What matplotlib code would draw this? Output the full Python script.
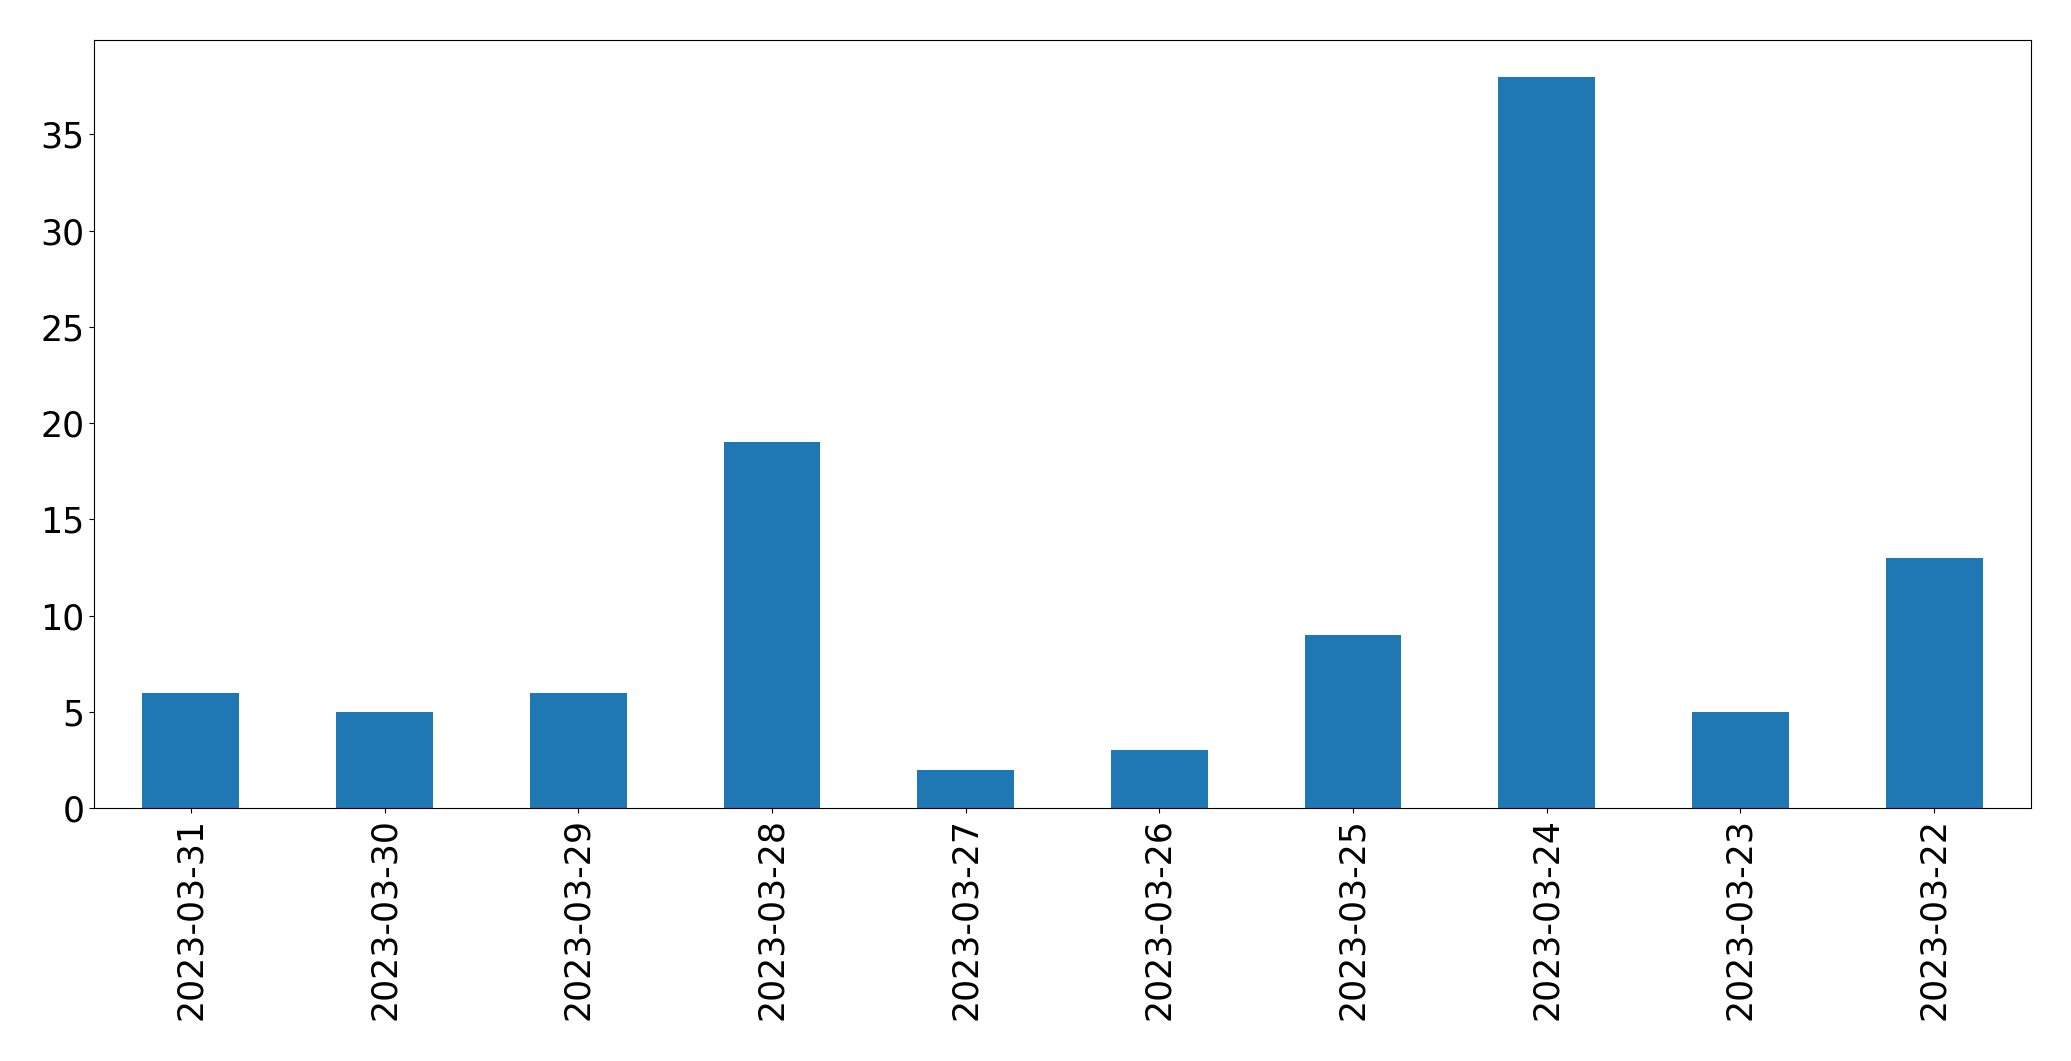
import matplotlib
matplotlib.use('Agg')
import matplotlib.pyplot as plt
import pandas as pd

dates = ['2023-03-31', '2023-03-30', '2023-03-29', '2023-03-28', '2023-03-27',
         '2023-03-26', '2023-03-25', '2023-03-24', '2023-03-23', '2023-03-22']
counts = [6, 5, 6, 19, 2, 3, 9, 38, 5, 13]

series = pd.Series(counts, index=dates)

fig = plt.figure(figsize=(20.71, 10.61), dpi=100)
ax = fig.add_axes([94 / 2071, 1 - 808 / 1061, (2031 - 94) / 2071, (808 - 40) / 1061])
series.plot(kind='bar', ax=ax, color='#1f77b4')
ax.tick_params(axis='both', labelsize=25)

fig.savefig('out.png', dpi=100)
